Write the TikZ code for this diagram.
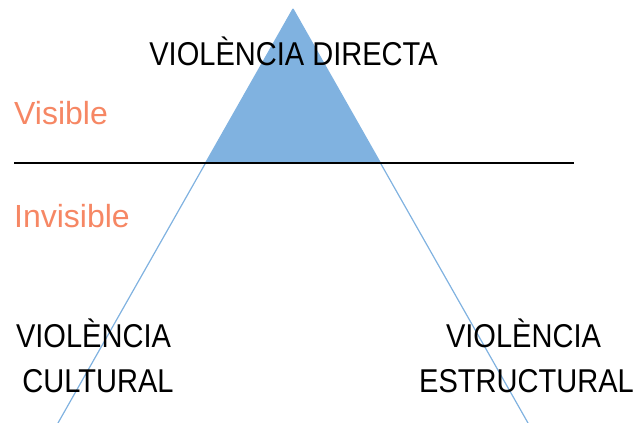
\documentclass[tikz,border=0pt]{standalone}
\usepackage{fontspec}
\setmainfont{Liberation Sans}[FakeStretch=0.88]
\newfontfamily\plainsans{Liberation Sans}
\usetikzlibrary{calc}
\definecolor{triblue}{RGB}{128,178,224}
\definecolor{labelorange}{RGB}{246,135,100}
\tikzset{
  bigtext/.style={inner sep=0pt, font=\fontsize{33}{38}\selectfont, text=black},
  sidetext/.style={inner sep=0pt, font=\plainsans\fontsize{32}{38}\selectfont, text=labelorange, anchor=base west},
  triline/.style={draw=triblue, line width=1.2pt},
  levelline/.style={draw=black, line width=1.6pt}
}
\begin{document}
\begin{tikzpicture}[x=1pt,y=-1pt]
\useasboundingbox (0,0) rectangle (638,423);
\coordinate (apex) at (293,9);
\coordinate (bl) at (58,423);
\coordinate (br) at (528,423);
\coordinate (cl) at ($(apex)!{154/414}!(bl)$);
\coordinate (cr) at ($(apex)!{154/414}!(br)$);
\coordinate (hl) at (14,163);
\coordinate (hr) at (574,163);
\fill[triblue] (apex) -- (cl) -- (cr) -- cycle;
\draw[triline] (apex) -- (bl);
\draw[triline] (apex) -- (br);
\draw[levelline] (hl) -- (hr);
\node[bigtext, anchor=base] (direct) at (293.5,65) {VIOLÈNCIA DIRECTA};
\node[sidetext] (visible) at (14,124) {Visible};
\node[sidetext] (invisible) at (14,227) {Invisible};
\node[bigtext, anchor=base] (cult1) at (93.5,347) {VIOLÈNCIA};
\node[bigtext, anchor=base] (cult2) at (98,392) {CULTURAL};
\node[bigtext, anchor=base] (estr1) at (523.5,347) {VIOLÈNCIA};
\node[bigtext, anchor=base] (estr2) at (526.5,392) {ESTRUCTURAL};
\end{tikzpicture}
\end{document}
